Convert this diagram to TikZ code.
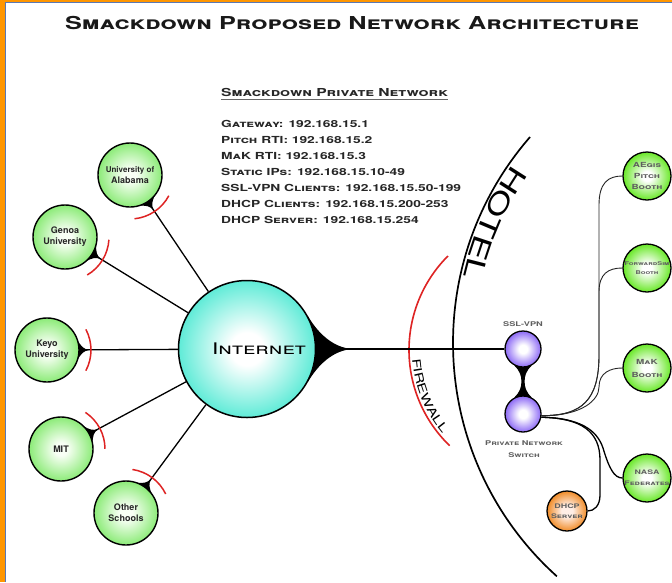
\documentclass[tikz,border=0pt]{standalone}
\usepackage{fontspec}
\setmainfont{TeX Gyre Heros}
\newfontfamily\cp[Letters=SmallCaps,FakeStretch=1.42]{TeX Gyre Heros}
\usetikzlibrary{decorations.text,backgrounds}

\definecolor{frameor}{RGB}{255,150,0}
\definecolor{frameblue}{RGB}{90,120,180}
\definecolor{satgreen}{RGB}{140,235,120}
\definecolor{satin}{RGB}{248,255,245}
\definecolor{boothgreen}{RGB}{105,232,40}
\definecolor{netcyan}{RGB}{95,235,215}
\definecolor{vpnpurple}{RGB}{140,105,245}
\definecolor{dhcporange}{RGB}{240,140,40}
\definecolor{dhcpin}{RGB}{255,238,230}
\definecolor{fwred}{RGB}{222,35,35}
\definecolor{txtgray}{RGB}{95,95,95}

\pgfdeclareradialshading{netball}{\pgfpoint{0bp}{0bp}}{color(0bp)=(white); color(6bp)=(white); color(25bp)=(netcyan); color(50bp)=(netcyan)}
\pgfdeclareradialshading{satball}{\pgfpoint{0bp}{0bp}}{color(0bp)=(satin); color(5bp)=(satin); color(25bp)=(satgreen); color(50bp)=(satgreen)}
\pgfdeclareradialshading{boothball}{\pgfpoint{0bp}{0bp}}{color(0bp)=(white); color(5bp)=(white); color(25bp)=(boothgreen); color(50bp)=(boothgreen)}
\pgfdeclareradialshading{vpnball}{\pgfpoint{0bp}{0bp}}{color(0bp)=(white); color(6bp)=(white); color(25bp)=(vpnpurple); color(50bp)=(vpnpurple)}
\pgfdeclareradialshading{dhcpball}{\pgfpoint{0bp}{0bp}}{color(0bp)=(dhcpin); color(7bp)=(dhcpin); color(25bp)=(dhcporange); color(50bp)=(dhcporange)}

\tikzset{
  orb/.style={circle, draw=black, inner sep=0pt, align=center},
  satnode/.style={orb, line width=1.4pt, minimum size=64pt, shading=satball,
    font=\bfseries\fontsize{9}{11}\selectfont, text=black!85},
  boothnode/.style={orb, line width=1.3pt, minimum size=48pt, shading=boothball,
    font=\cp\bfseries\fontsize{7}{11}\selectfont, text=txtgray},
  netnode/.style={orb, line width=1.5pt, minimum size=137pt, shading=netball},
  vpnnode/.style={orb, line width=1.3pt, minimum size=36pt, shading=vpnball},
  dhcpnode/.style={orb, line width=1.3pt, minimum size=40pt, shading=dhcpball,
    font=\cp\bfseries\fontsize{6.3}{10}\selectfont, text=txtgray},
  link/.style={line width=1.3pt},
  fw/.style={draw=fwred, line width=1.5pt},
  listtxt/.style={anchor=base west, inner sep=0pt,
    font=\cp\bfseries\fontsize{9.7}{12}\selectfont, text=black!85},
  smalllabel/.style={font=\cp\bfseries\fontsize{6.5}{11.5}\selectfont,
    text=txtgray, align=center, inner sep=0pt},
  thinwire/.style={line width=0.9pt, draw=black!85},
  wire/.style={line width=1.3pt, draw=black},
}

\begin{document}
\begin{tikzpicture}[x=1pt,y=1pt]
\useasboundingbox (0,0) rectangle (672,-582);

% ---------- titles ----------
\node[anchor=base, inner sep=0pt, text=black!90] (title) at (352,-29)
  {\cp\bfseries\fontsize{17.8}{20}\selectfont Smackdown Proposed Network Architecture};
\node[anchor=base west, inner sep=0pt, text=black!85] (sub) at (221,-96.5)
  {\cp\bfseries\fontsize{11}{12}\selectfont Smackdown Private Network};
\draw[black!60, line width=0.8pt] ([yshift=-2.8pt]sub.base west) -- ([yshift=-2.8pt]sub.base east);

\foreach \t [count=\i] in {Gateway: 192.168.15.1, Pitch RTI: 192.168.15.2,
    MaK RTI: 192.168.15.3, Static IPs: 192.168.15.10-49,
    SSL-VPN Clients: 192.168.15.50-199, DHCP Clients: 192.168.15.200-253,
    DHCP Server: 192.168.15.254}
  \node[listtxt] (l\i) at (221,{-127.5-16*(\i-1)}) {\t};

% ---------- nodes ----------
\node[netnode] (inet) at (247,-349) {};
\node[inner sep=0pt] (inettxt) at (259,-349)
  {\cp\fontsize{16}{16}\selectfont Internet};

\node[satnode] (ala) at (130,-175) {\fontsize{8}{9.5}\selectfont University of\\Alabama};
\node[satnode] (gen) at (65,-237) {Genoa\\University};
\node[satnode] (key) at (47,-350) {Keyo\\University};
\node[satnode] (mit) at (61,-449) {MIT};
\node[satnode] (oth) at (126,-513) {Other\\Schools};

\node[vpnnode] (ssl) at (523,-349) {};
\node[vpnnode] (sw) at (523,-414) {};
\node[smalllabel] (ssllabel) at (523,-324) {SSL-VPN};
\node[smalllabel] (swlabel) at (524,-449) {Private Network\\Switch};

\node[boothnode] (aegis) at (647,-176) {AEgis\\Pitch\\Booth};
\node[boothnode, font=\cp\bfseries\fontsize{5.2}{9}\selectfont] (fwd) at (647,-268) {ForwardSim\\Booth};
\node[boothnode, font=\cp\bfseries\fontsize{7}{13}\selectfont] (mak) at (647,-368) {MaK\\Booth};
\node[boothnode, font=\cp\bfseries\fontsize{6.2}{11}\selectfont] (nasa) at (647,-478) {NASA\\Federates};
\node[dhcpnode] (dhcp) at (567,-511) {DHCP\\Server};

\coordinate (hc) at (767,-343);
\coordinate (fc) at (542,-350);
\coordinate (nettip) at (353,-349);

% ---------- arc texts ----------
\path[decorate, decoration={text along path,
    text={|\cp\fontsize{26}{26}\selectfont|HOTEL}}]
  ([shift={(145:311)}]hc) arc[start angle=145, end angle=180, radius=311];
\path[decorate, decoration={text along path,
    text={|\cp\fontsize{11.5}{11.5}\selectfont|FIREWALL}}]
  ([shift={(184:130)}]fc) arc[start angle=184, end angle=228, radius=130];

% ---------- background drawing ----------
\begin{scope}[on background layer]
  \fill[white] (0,0) rectangle (672,-582);
  \fill[frameor] (0,0) rectangle (5.3,-582);
  \fill[frameor] (0,0) rectangle (672,-2.3);
  \draw[frameblue, line width=0.9pt] (5.8,-582) -- (5.8,-2.8) -- (672,-2.8);

  % hotel and firewall arcs
  \draw[line width=1.7pt] ([shift={(139:314)}]hc) arc[start angle=139, end angle=228, radius=314];
  \draw[fw, line width=1.6pt] ([shift={(135:133)}]fc) arc[start angle=135, end angle=226, radius=133];

  % internet to vpn
  \fill (inet.28) .. controls (318,-333) and (333,-348) .. (nettip)
        .. controls (333,-350) and (318,-365) .. (inet.-28) -- cycle;
  \draw[line width=2.8pt] (inet) -- (ssl);

  % vpn hourglass
  \fill (ssl.-62) .. controls (526,-371) and (524.6,-376) .. (524.6,-381.5)
        .. controls (524.6,-387) and (526,-392) .. (sw.62)
        -- (sw.118) .. controls (520,-392) and (521.4,-387) .. (521.4,-381.5)
        .. controls (521.4,-376) and (520,-371) .. (ssl.-118) -- cycle;

  % switch to booths
  \draw[thinwire] (sw.-5) .. controls (582,-416) and (599,-400) .. (599,-355)
        -- (599,-205) .. controls (599,-183) and (608,-176) .. (aegis.west);
  \draw[thinwire] (sw.-5) .. controls (582,-416) and (599,-400) .. (599,-355)
        -- (599,-292) .. controls (599,-274) and (608,-268) .. (fwd.west);
  \draw[thinwire] (sw.-5) .. controls (582,-416) and (599,-400) .. (599,-387)
        .. controls (599,-373) and (610,-368) .. (mak.west);
  \draw[wire] (sw.-10) .. controls (580,-418) and (597,-430) .. (603,-448)
        .. controls (609,-468) and (614,-478) .. (nasa.west);
  \draw[wire] (sw.-10) .. controls (582,-418) and (600,-432) .. (600,-460)
        -- (600,-495) .. controls (600,-506) and (594,-511) .. (dhcp.east);

  % satellites to internet
  \draw[link] (ala) -- (inet);
  \draw[link] (gen) -- (inet);
  \draw[link] (key) -- (inet);
  \draw[link] (mit) -- (inet);
  \draw[link] (oth) -- (inet);
  \foreach \n/\a in {ala/-56.1, gen/-31.6, key/0, mit/28.3, oth/53.6}{
    \begin{scope}[shift={(\n.center)}, rotate=\a]
      \fill (20:32) .. controls (34,3) and (37,1) .. (42,0)
            .. controls (37,-1) and (34,-3) .. (-20:32) -- cycle;
      \draw[fw] (-28:44) arc[start angle=-28, end angle=28, radius=44];
    \end{scope}
  }
\end{scope}
\end{tikzpicture}
\end{document}
